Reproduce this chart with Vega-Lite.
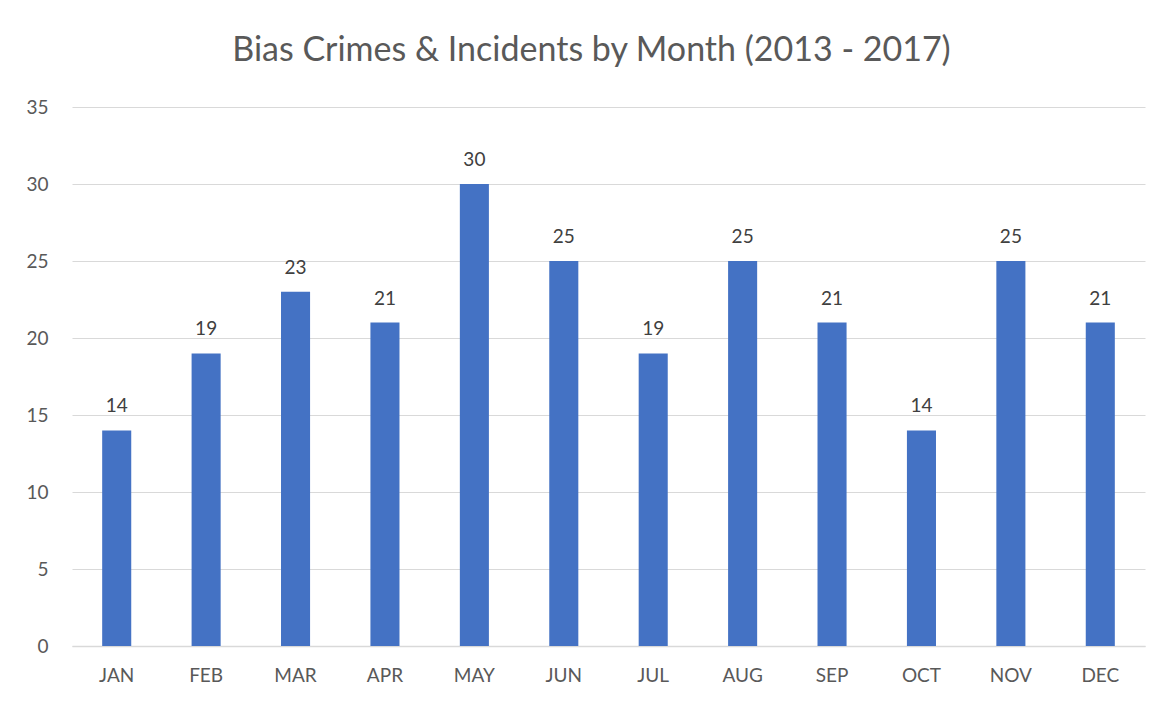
{
  "$schema": "https://vega.github.io/schema/vega-lite/v6.json",
  "width": 1073,
  "height": 539,
  "autosize": {"type": "none"},
  "padding": {"left": 72, "top": 107, "right": 23, "bottom": 58},
  "background": "white",
  "config": {
    "view": {"stroke": null},
    "font": "Lato"
  },
  "title": {
    "text": "Bias Crimes & Incidents by Month (2013 - 2017)",
    "font": "Lato",
    "fontSize": 34,
    "fontWeight": "normal",
    "color": "#595959",
    "anchor": "middle",
    "dx": -17,
    "offset": 30
  },
  "data": {
    "values": [
      {"month": "JAN", "count": 14},
      {"month": "FEB", "count": 19},
      {"month": "MAR", "count": 23},
      {"month": "APR", "count": 21},
      {"month": "MAY", "count": 30},
      {"month": "JUN", "count": 25},
      {"month": "JUL", "count": 19},
      {"month": "AUG", "count": 25},
      {"month": "SEP", "count": 21},
      {"month": "OCT", "count": 14},
      {"month": "NOV", "count": 25},
      {"month": "DEC", "count": 21}
    ]
  },
  "encoding": {
    "x": {
      "field": "month",
      "type": "nominal",
      "sort": null,
      "scale": {"paddingInner": 0.675, "paddingOuter": 0.3375},
      "axis": {
        "title": null,
        "labelAngle": 0,
        "labelFontSize": 19,
        "labelColor": "#595959",
        "labelPadding": 20,
        "ticks": false,
        "domain": true,
        "domainColor": "#D9D9D9",
        "domainWidth": 1.5
      }
    },
    "y": {
      "field": "count",
      "type": "quantitative",
      "scale": {"domain": [0, 35], "nice": false},
      "axis": {
        "title": null,
        "values": [0, 5, 10, 15, 20, 25, 30, 35],
        "labelFontSize": 19,
        "labelColor": "#595959",
        "labelPadding": 24,
        "ticks": false,
        "domain": false,
        "grid": true,
        "gridColor": "#D9D9D9",
        "gridWidth": 1
      }
    }
  },
  "layer": [
    {
      "mark": {"type": "bar", "color": "#4472C4"}
    },
    {
      "mark": {
        "type": "text",
        "baseline": "alphabetic",
        "dy": -18,
        "fontSize": 19,
        "color": "#404040"
      },
      "encoding": {"text": {"field": "count", "type": "quantitative"}}
    }
  ]
}
